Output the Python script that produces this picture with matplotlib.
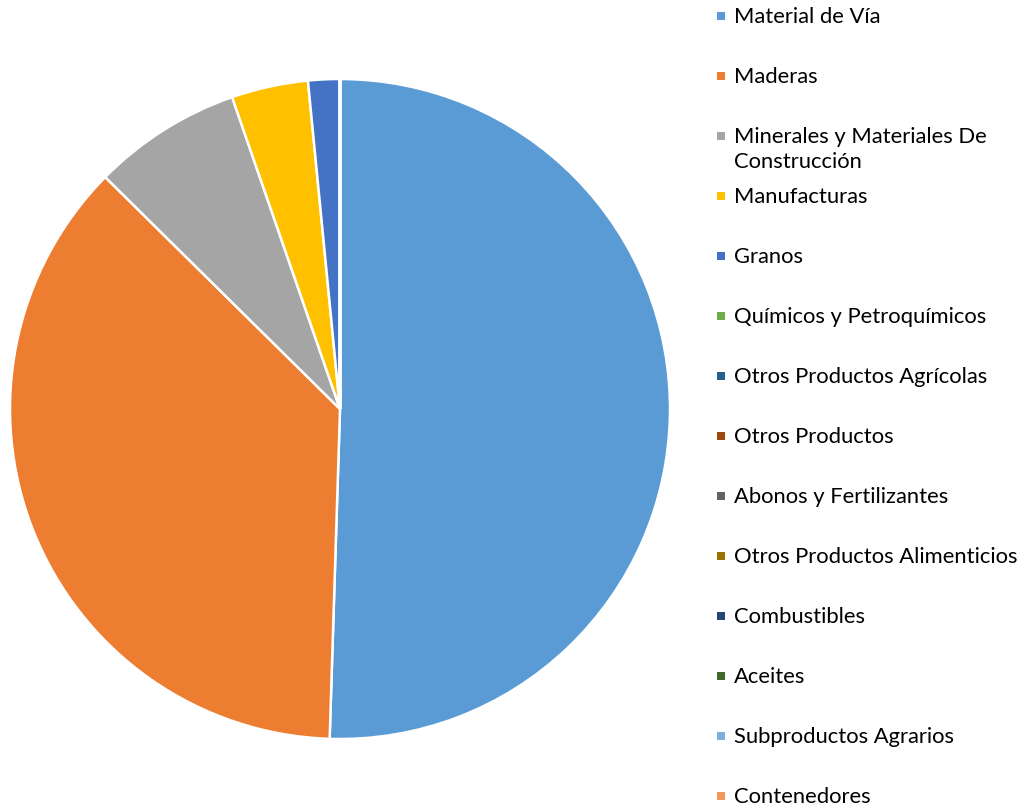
import matplotlib.pyplot as plt
from matplotlib.patches import Rectangle

plt.rcParams['font.family'] = ['Lato', 'DejaVu Sans']

# categories and shares (%)
categorias = ['Material de Vía', 'Maderas', 'Minerales y Materiales De\nConstrucción',
              'Manufacturas', 'Granos', 'Químicos y Petroquímicos',
              'Otros Productos Agrícolas', 'Otros Productos', 'Abonos y Fertilizantes',
              'Otros Productos Alimenticios', 'Combustibles', 'Aceites',
              'Subproductos Agrarios', 'Contenedores']
valores = [50.5, 36.9, 7.3, 3.75, 1.55, 0, 0, 0, 0, 0, 0, 0, 0, 0]
colores = ['#5B9BD5', '#ED7D31', '#A5A5A5', '#FFC000', '#4472C4', '#70AD47',
           '#255E91', '#9E480E', '#636363', '#997300', '#264478', '#43682B',
           '#7CAFDD', '#F1975A']

W, H = 1022, 804
fig = plt.figure(figsize=(W / 100, H / 100), dpi=100)

# pie centre (340, 410) px, radius 330 px
cx, cy, r = 340, 410, 330
ax = fig.add_axes([(cx - r) / W, (H - cy - r) / H, 2 * r / W, 2 * r / H])
ax.pie(valores, colors=colores, startangle=90, counterclock=False,
       wedgeprops=dict(edgecolor='white', linewidth=1.8))
ax.set_xlim(-1, 1)
ax.set_ylim(-1, 1)
ax.axis('off')

# legend, drawn by hand: one entry every 60 px
for i, (lab, col) in enumerate(zip(categorias, colores)):
    y = 17 + 60 * i
    fig.add_artist(Rectangle(((717) / W, 1 - (y + 4) / H), 8 / W, 8 / H,
                             transform=fig.transFigure, color=col, lw=0))
    fig.text(734 / W, 1 - (y - 10) / H, lab, fontsize=15.8, va='top', ha='left',
             color='#000000', linespacing=1.3)

fig.savefig('out.png', dpi=100)
